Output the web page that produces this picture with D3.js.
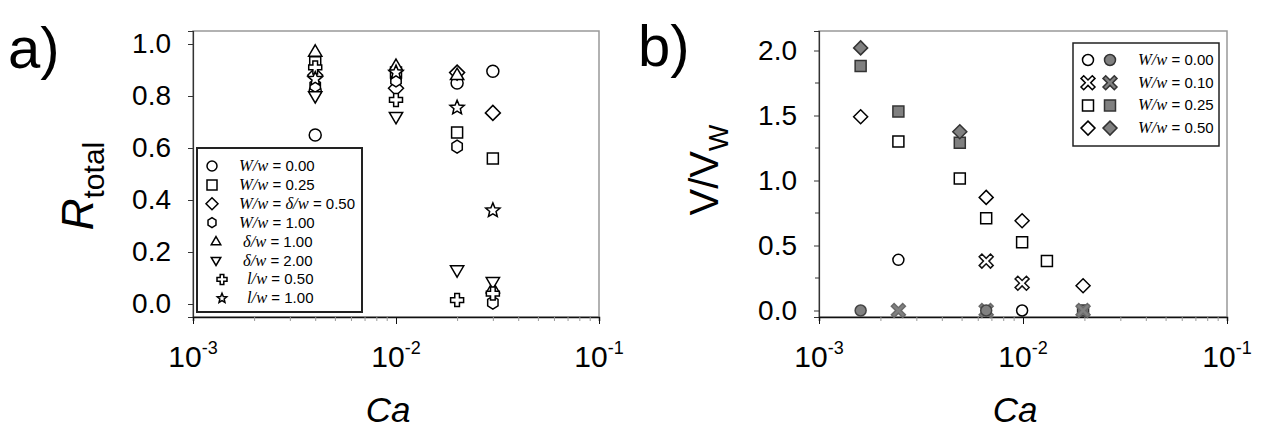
<!DOCTYPE html>
<html>
<head>
<meta charset="utf-8">
<script src="https://cdn.jsdelivr.net/npm/d3@7"></script>
<style>
body { margin: 0; background: #fff; }
svg { font-family: Arial, "Liberation Sans", sans-serif; }
</style>
</head>
<body>
<script>
// ---- panel a) : R_total vs Ca, pairs of [Ca, R]
var circleA   = [[0.004, 0.65], [0.004, 0.82], [0.02, 0.85], [0.03, 0.895]];
var squareA   = [[0.004, 0.93], [0.01, 0.89], [0.02, 0.66], [0.03, 0.56]];
var diamondA  = [[0.004, 0.88], [0.01, 0.83], [0.02, 0.89], [0.03, 0.735]];
var hexagonA  = [[0.004, 0.84], [0.01, 0.86], [0.02, 0.605], [0.03, 0.005]];
var triUpA    = [[0.004, 0.97], [0.01, 0.915], [0.02, 0.88], [0.03, 0.06]];
var triDownA  = [[0.004, 0.80], [0.01, 0.72], [0.02, 0.13], [0.03, 0.085]];
var plusA     = [[0.004, 0.91], [0.01, 0.785], [0.02, 0.015], [0.03, 0.04]];
var starA     = [[0.004, 0.865], [0.01, 0.89], [0.02, 0.755], [0.03, 0.36]];

var legendA = [
    ["circle",  "W/w", " = 0.00"],
    ["square",  "W/w", " = 0.25"],
    ["diamond", "W/w", " = ", "\u03b4/w", " = 0.50"],
    ["hexagon", "W/w", " = 1.00"],
    ["triUp",   "\u03b4/w", " = 1.00"],
    ["triDown", "\u03b4/w", " = 2.00"],
    ["plus",    "l/w", " = 0.50"],
    ["star",    "l/w", " = 1.00"]
];

// ---- panel b) : V/V_W vs Ca, pairs of [Ca, V/V_W]
var circleOpenB    = [[0.00245, 0.39], [0.0099, 0.0]];
var circleFilledB  = [[0.0016, 0.0], [0.0066, 0.0]];
var crossOpenB     = [[0.0066, 0.38], [0.0099, 0.21]];
var crossFilledB   = [[0.00245, 0.0], [0.0066, 0.0], [0.0197, 0.0]];
var squareOpenB    = [[0.00245, 1.30], [0.0049, 1.015], [0.0066, 0.71], [0.0099, 0.525], [0.0131, 0.38]];
var squareFilledB  = [[0.0016, 1.88], [0.00245, 1.53], [0.0049, 1.29], [0.0197, 0.0]];
var diamondOpenB   = [[0.0016, 1.49], [0.0066, 0.87], [0.0099, 0.69], [0.0197, 0.19]];
var diamondFilledB = [[0.0016, 2.02], [0.0049, 1.375]];

var legendB = [
    ["circle",  " = 0.00"],
    ["cross",   " = 0.10"],
    ["square",  " = 0.25"],
    ["diamond", " = 0.50"]
];

var yTicksA = [0, 0.2, 0.4, 0.6, 0.8, 1.0];
var yTicksB = [0, 0.5, 1.0, 1.5, 2.0];
var yMinorB = [0.25, 0.75, 1.25, 1.75];
var xMajor = [1e-3, 1e-2, 1e-1];
var xMajorLabels = ["-3", "-2", "-1"];

var width = 1265;
var height = 430;
var grey = "#808080";

var svg = d3.select("body")
    .append("svg")
    .attr("width", width)
    .attr("height", height);

function poly(pts) {
    return "M" + pts.map(function(p) { return p[0].toFixed(2) + "," + p[1].toFixed(2); }).join("L") + "Z";
}

// marker outlines
function shapePath(type, r) {
    var pts = [], i, a;
    if (type == "circle") {
        return "M" + (-r) + ",0A" + r + "," + r + " 0 1,0 " + r + ",0A" + r + "," + r + " 0 1,0 " + (-r) + ",0Z";
    }
    if (type == "square") return poly([[-r, -r], [r, -r], [r, r], [-r, r]]);
    if (type == "diamond") return poly([[0, -r], [r, 0], [0, r], [-r, 0]]);
    if (type == "hexagon") {
        for (i = 0; i < 6; i++) {
            a = (-90 + 60 * i) * Math.PI / 180;
            pts.push([r * 0.92 * Math.cos(a), r * Math.sin(a)]);
        }
        return poly(pts);
    }
    if (type == "triUp") return poly([[0, -r], [r * 0.95, r * 0.62], [-r * 0.95, r * 0.62]]);
    if (type == "triDown") return poly([[0, r], [r * 0.95, -r * 0.62], [-r * 0.95, -r * 0.62]]);
    if (type == "plus" || type == "cross") {
        var b = type == "cross" ? r * 0.24 : r * 0.36;
        pts = [[-b, -r], [b, -r], [b, -b], [r, -b], [r, b], [b, b], [b, r], [-b, r], [-b, b], [-r, b], [-r, -b], [-b, -b]];
        if (type == "cross") {
            var c = Math.SQRT1_2;
            pts = pts.map(function(p) { return [c * (p[0] - p[1]), c * (p[0] + p[1])]; });
        }
        return poly(pts);
    }
    if (type == "star") {
        for (i = 0; i < 10; i++) {
            a = (-90 + 36 * i) * Math.PI / 180;
            var rr = (i % 2 == 0) ? r : r * 0.45;
            pts.push([rr * Math.cos(a), rr * Math.sin(a)]);
        }
        return poly(pts);
    }
}

var sizeA = { circle: 6, square: 5.5, diamond: 7.5, hexagon: 6.5, triUp: 7, triDown: 7, plus: 6.5, star: 7.5 };
var sizeB = { circle: 5.5, square: 5.5, diamond: 7, cross: 8 };

function drawMarks(g, data, x, y, type, r, fill, stroke) {
    g.selectAll(null)
        .data(data)
        .enter().append("path")
        .attr("transform", function(d) { return "translate(" + x(d[0]) + "," + y(d[1]) + ")"; })
        .attr("d", shapePath(type, r))
        .attr("fill", fill)
        .attr("stroke", stroke)
        .attr("stroke-width", 1.5);
}

// frame + axes for one panel
function drawFrame(x, y, yTicks, yMinor, fmt) {
    var x0 = x.range()[0], x1 = x.range()[1];
    var y0 = y.range()[0], y1 = y.range()[1];
    var g = svg.append("g");

    g.append("rect")
        .attr("x", x0).attr("y", y1)
        .attr("width", x1 - x0).attr("height", y0 - y1)
        .attr("fill", "none")
        .attr("stroke", "#999")
        .attr("stroke-width", 1.5);

    // y axis
    var ya = g.append("g")
        .attr("transform", "translate(" + x0 + ",0)")
        .call(d3.axisLeft(y).tickValues(yTicks).tickSize(5).tickPadding(17).tickFormat(fmt));
    ya.select(".domain").attr("stroke", "#333").attr("stroke-width", 1.2);
    ya.selectAll(".tick line").attr("stroke", "#333");
    ya.selectAll("text").attr("font-size", 28).attr("fill", "#000")
        .attr("font-family", "Arial, 'Liberation Sans', sans-serif");
    if (yMinor) {
        g.selectAll(null).data(yMinor).enter().append("line")
            .attr("x1", x0 - 4).attr("x2", x0)
            .attr("y1", function(d) { return y(d); })
            .attr("y2", function(d) { return y(d); })
            .attr("stroke", "#333");
    }

    // x axis, log ticks
    var xa = g.append("g")
        .attr("transform", "translate(0," + y0 + ")")
        .call(d3.axisBottom(x).tickValues(x.ticks()).tickSize(4).tickFormat(""));
    xa.select(".domain").attr("stroke", "#111").attr("stroke-width", 1.5);
    xa.selectAll(".tick line")
        .attr("y2", function(d) { return xMajor.indexOf(d) >= 0 ? 7 : 4; })
        .attr("stroke", function(d) { return xMajor.indexOf(d) >= 0 ? "#111" : "#999"; });

    var lab = g.selectAll(null)
        .data(xMajor)
        .enter().append("text")
        .attr("x", function(d) { return x(d); })
        .attr("y", y0 + 50)
        .attr("text-anchor", "middle")
        .attr("font-size", 30);
    lab.append("tspan").text("10");
    lab.append("tspan")
        .attr("font-size", 18)
        .attr("dy", -13)
        .text(function(d, i) { return xMajorLabels[i]; });

    g.append("text")
        .attr("x", (x0 + x1) / 2 - 8)
        .attr("y", y0 + 105)
        .attr("text-anchor", "middle")
        .attr("font-size", 35)
        .attr("font-style", "italic")
        .text("Ca");
}

// ================= panel a)
var xA = d3.scaleLog().domain([1e-3, 1e-1]).range([193, 599]);
var yA = d3.scaleLinear().domain([-0.05, 1.05]).range([317, 31]);

drawFrame(xA, yA, yTicksA, null, d3.format(".1f"));

var gA = svg.append("g");
drawMarks(gA, circleA, xA, yA, "circle", sizeA.circle, "#fff", "#000");
drawMarks(gA, squareA, xA, yA, "square", sizeA.square, "#fff", "#000");
drawMarks(gA, diamondA, xA, yA, "diamond", sizeA.diamond, "#fff", "#000");
drawMarks(gA, hexagonA, xA, yA, "hexagon", sizeA.hexagon, "#fff", "#000");
drawMarks(gA, triUpA, xA, yA, "triUp", sizeA.triUp, "#fff", "#000");
drawMarks(gA, triDownA, xA, yA, "triDown", sizeA.triDown, "#fff", "#000");
drawMarks(gA, plusA, xA, yA, "plus", sizeA.plus, "#fff", "#000");
drawMarks(gA, starA, xA, yA, "star", sizeA.star, "#fff", "#000");

// legend a)
var legA = svg.append("g").attr("transform", "translate(197,148)");
legA.append("rect")
    .attr("width", 165).attr("height", 164)
    .attr("fill", "#fff")
    .attr("stroke", "#222")
    .attr("stroke-width", 2);
legendA.forEach(function(row, i) {
    var cy = 18 + i * 18.9;
    var sx = i < 4 ? 15 : (i < 6 ? 19 : 25);
    legA.append("path")
        .attr("transform", "translate(" + sx + "," + cy + ")")
        .attr("d", shapePath(row[0], row[0] == "diamond" ? 6 : 5))
        .attr("fill", "#fff")
        .attr("stroke", "#000")
        .attr("stroke-width", 1.5);
    var tx = i < 4 ? 42 : (i < 6 ? 46 : 50);
    var t = legA.append("text")
        .attr("x", tx).attr("y", cy + 5)
        .attr("font-size", 15);
    for (var k = 1; k < row.length; k++) {
        if (k % 2 == 1) {
            t.append("tspan")
                .attr("font-family", "'Liberation Serif', 'DejaVu Serif', serif")
                .attr("font-style", "italic")
                .attr("font-size", 16.5)
                .text(row[k]);
        } else {
            t.append("tspan").text(row[k]);
        }
    }
});

// y title a)
var tA = svg.append("text")
    .attr("transform", "translate(93,186) rotate(-90)")
    .attr("text-anchor", "middle");
tA.append("tspan").attr("font-size", 44).attr("font-style", "italic").text("R");
tA.append("tspan").attr("font-size", 30).attr("dy", 11).text("total");

// ================= panel b)
var xB = d3.scaleLog().domain([1e-3, 1e-1]).range([819, 1227]);
var yB = d3.scaleLinear().domain([-0.05, 2.15]).range([317, 31]);

drawFrame(xB, yB, yTicksB, yMinorB, d3.format(".1f"));

var gB = svg.append("g");
drawMarks(gB, circleOpenB, xB, yB, "circle", sizeB.circle, "#fff", "#000");
drawMarks(gB, squareOpenB, xB, yB, "square", sizeB.square, "#fff", "#000");
drawMarks(gB, diamondOpenB, xB, yB, "diamond", sizeB.diamond, "#fff", "#000");
drawMarks(gB, crossOpenB, xB, yB, "cross", sizeB.cross, "#fff", "#111");
drawMarks(gB, squareFilledB, xB, yB, "square", sizeB.square, grey, "#333");
drawMarks(gB, crossFilledB, xB, yB, "cross", sizeB.cross, grey, "#6a6a6a");
drawMarks(gB, circleFilledB, xB, yB, "circle", sizeB.circle, grey, "#444");
drawMarks(gB, diamondFilledB, xB, yB, "diamond", sizeB.diamond, grey, "#333");

// legend b)
var legB = svg.append("g").attr("transform", "translate(1073,43)");
legB.append("rect")
    .attr("width", 146).attr("height", 103)
    .attr("fill", "#fff")
    .attr("stroke", "#222")
    .attr("stroke-width", 1.5);
legendB.forEach(function(row, i) {
    var cy = 17 + i * 22.7;
    var r = row[0] == "diamond" ? 7 : (row[0] == "cross" ? 8 : 5.5);
    legB.append("path")
        .attr("transform", "translate(15," + cy + ")")
        .attr("d", shapePath(row[0], r))
        .attr("fill", "#fff").attr("stroke", "#000").attr("stroke-width", 1.5);
    legB.append("path")
        .attr("transform", "translate(37," + cy + ")")
        .attr("d", shapePath(row[0], r))
        .attr("fill", grey).attr("stroke", "#333").attr("stroke-width", 1.5);
    var t = legB.append("text")
        .attr("x", 65).attr("y", cy + 5)
        .attr("font-size", 15);
    t.append("tspan")
        .attr("font-family", "'Liberation Serif', 'DejaVu Serif', serif")
        .attr("font-style", "italic")
        .attr("font-size", 16.5)
        .text("W/w");
    t.append("tspan").text(row[1]);
});

// y title b)
var tB = svg.append("text")
    .attr("transform", "translate(718,170) rotate(-90)")
    .attr("text-anchor", "middle");
tB.append("tspan").attr("font-size", 40).text("V/V");
tB.append("tspan").attr("font-size", 28).attr("dy", 10).text("W");

// panel letters
svg.append("text").attr("x", 8).attr("y", 68).attr("font-size", 58).text("a)");
svg.append("text").attr("x", 638).attr("y", 66).attr("font-size", 58).text("b)");
</script>
</body>
</html>
